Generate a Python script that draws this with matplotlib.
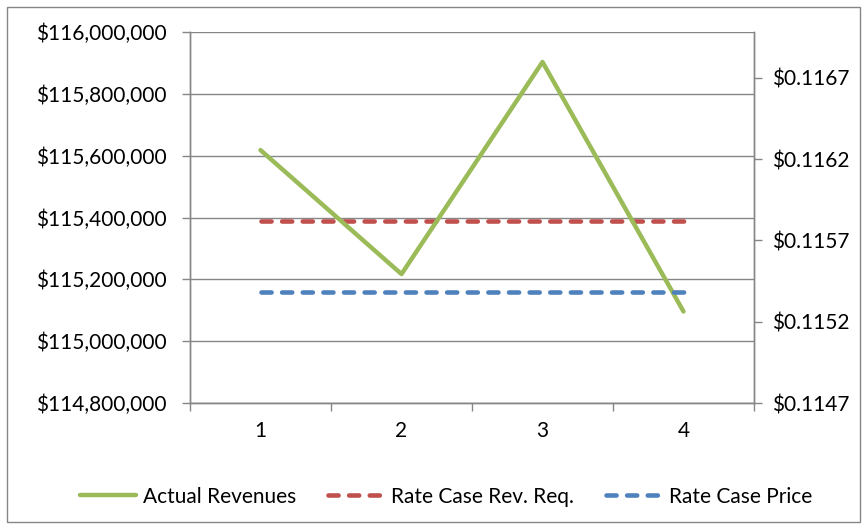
import matplotlib.pyplot as plt
from matplotlib.ticker import FuncFormatter, FixedLocator
from matplotlib.patches import Rectangle

plt.rcParams['font.family'] = ['Lato', 'DejaVu Sans']

# ---------------------------------------------------------------------------
# Data
# ---------------------------------------------------------------------------
periods = [1, 2, 3, 4]
actual_revenues = [115618000, 115217000, 115903000, 115096000]
rate_case_rev_req = [115388000, 115388000, 115388000, 115388000]
rate_case_price = [0.115383, 0.115383, 0.115383, 0.115383]

left_ticks = [114800000, 115000000, 115200000, 115400000, 115600000, 115800000, 116000000]
right_ticks = [0.1147, 0.1152, 0.1157, 0.1162, 0.1167]

GREEN = "#9bbb59"
RED = "#c0504d"
BLUE = "#4f81bd"
GRID = "#868686"
FS = 15

fig = plt.figure(figsize=(8.68, 5.29), dpi=100)
fig.patches.append(Rectangle((7 / 868, 1 - 522 / 529), 853 / 868, 515 / 529,
                             transform=fig.transFigure, fill=False,
                             edgecolor=GRID, linewidth=1.0))

ax = fig.add_axes([190 / 868, 1 - 403 / 529, 564 / 868, 371 / 529])
ax2 = ax.twinx()

l1, = ax.plot(periods, actual_revenues, color=GREEN, linewidth=3.2,
              solid_capstyle="round", label="Actual Revenues", zorder=3)
l2, = ax.plot(periods, rate_case_rev_req, color=RED, linewidth=3.3,
              dashes=(2.2, 2.3), dash_capstyle="round",
              label="Rate Case Rev. Req.", zorder=2)
l3, = ax2.plot(periods, rate_case_price, color=BLUE, linewidth=3.3,
               dashes=(2.2, 2.3), dash_capstyle="round",
               label="Rate Case Price", zorder=2)

ax.set_xlim(0.5, 4.5)
ax.set_ylim(114800000, 116000000)
ax2.set_ylim(0.1147, 0.116983)

ax.set_yticks(left_ticks)
ax.yaxis.set_major_formatter(FuncFormatter(lambda v, p: f"${v:,.0f}"))
ax2.set_yticks(right_ticks)
ax2.yaxis.set_major_formatter(FuncFormatter(lambda v, p: f"${v:.4f}"))

# category labels centred, tick marks between categories
ax.set_xticks(periods)
ax.set_xticklabels([str(p) for p in periods])
ax.xaxis.set_minor_locator(FixedLocator([0.5, 1.5, 2.5, 3.5, 4.5]))
ax.tick_params(axis="x", which="major", length=0, pad=13, labelsize=FS)
ax.tick_params(axis="x", which="minor", length=6, color=GRID, width=1)
ax.tick_params(axis="y", length=6, color=GRID, width=1, labelsize=FS, pad=11)
ax2.tick_params(axis="y", length=6, color=GRID, width=1, labelsize=FS, pad=7)

ax.grid(axis="y", color=GRID, linewidth=1)
ax.set_axisbelow(True)

for a in (ax, ax2):
    a.spines["top"].set_visible(False)
    for s in ("left", "right", "bottom"):
        a.spines[s].set_color(GRID)
        a.spines[s].set_linewidth(1)

fig.legend(handles=[l1, l2, l3], loc="center", bbox_to_anchor=(0.514, 0.061),
           ncol=3, frameon=False, fontsize=FS, handlelength=2.7,
           handletextpad=0.35, columnspacing=1.5)

plt.savefig("out.png", dpi=100)
